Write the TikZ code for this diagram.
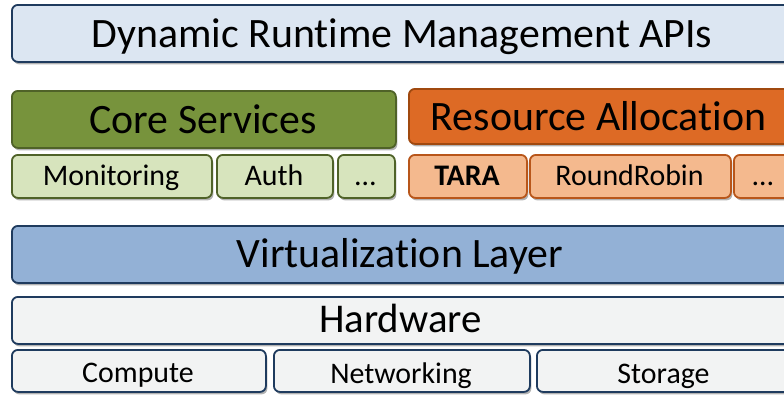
\documentclass[tikz,border=0pt]{standalone}
\usepackage{fontspec}
\setmainfont{Carlito}[Ligatures={NoCommon,NoContextual}]
\usetikzlibrary{shadows}
\definecolor{navy}{HTML}{1F3B5E}
\definecolor{topfill}{HTML}{DCE6F2}
\definecolor{corefill}{HTML}{77933C}
\definecolor{coredraw}{HTML}{4F6228}
\definecolor{gsubfill}{HTML}{D7E4BD}
\definecolor{orfill}{HTML}{DD6A25}
\definecolor{ordraw}{HTML}{A0490F}
\definecolor{osubfill}{HTML}{F4B98E}
\definecolor{osubdraw}{HTML}{B8561A}
\definecolor{virtfill}{HTML}{93B1D6}
\definecolor{hwfill}{HTML}{F2F3F3}
\tikzset{
  boxbase/.style={rectangle, rounded corners=6bp, line width=1.8bp, inner sep=0pt,
    anchor=north west, drop shadow={shadow xshift=1.5bp, shadow yshift=-2.5bp, opacity=0.3, fill=black}},
  bluebox/.style={boxbase, fill=topfill, draw=navy},
  corebox/.style={boxbase, fill=corefill, draw=coredraw},
  gsub/.style={boxbase, fill=gsubfill, draw=coredraw},
  orbox/.style={boxbase, fill=orfill, draw=ordraw},
  osub/.style={boxbase, fill=osubfill, draw=osubdraw},
  virtbox/.style={boxbase, fill=virtfill, draw=navy},
  hwbox/.style={boxbase, fill=hwfill, draw=navy},
  bigtxt/.style={anchor=base, inner sep=0pt, font=\fontsize{42}{50}\selectfont},
  hwtxt/.style={anchor=base, inner sep=0pt, font=\fontsize{41}{49}\selectfont},
  smalltxt/.style={anchor=base, inner sep=0pt, font=\fontsize{30}{36}\selectfont},
}
\begin{document}
\begin{tikzpicture}[x=1bp,y=-1bp]
\useasboundingbox (0,0) rectangle (784,394);
% boxes
\node[bluebox, minimum width=789bp, minimum height=57bp] (api) at (11,4) {};
\node[corebox, minimum width=384bp, minimum height=57bp] (core) at (11,90) {};
\node[orbox, minimum width=385bp, minimum height=55bp] (ra) at (408,88) {};
\node[gsub, minimum width=200bp, minimum height=43bp] (mon) at (11,154) {};
\node[gsub, minimum width=116bp, minimum height=43bp] (auth) at (216,154) {};
\node[gsub, minimum width=57bp, minimum height=43bp] (gdots) at (337,154) {};
\node[osub, minimum width=118bp, minimum height=43bp] (tara) at (408,154) {};
\node[osub, minimum width=201bp, minimum height=43bp] (rr) at (529,154) {};
\node[osub, minimum width=60bp, minimum height=43bp] (odots) at (733,154) {};
\node[virtbox, minimum width=789bp, minimum height=57bp] (virt) at (11,225) {};
\node[hwbox, minimum width=789bp, minimum height=47bp] (hw) at (11,296) {};
\node[hwbox, minimum width=254bp, minimum height=42bp] (comp) at (11,349) {};
\node[hwbox, minimum width=256bp, minimum height=42bp] (net) at (273,349) {};
\node[hwbox, minimum width=260bp, minimum height=42bp] (stor) at (536,349) {};
% texts
\node[bigtxt] (tapi) at (402,47) {Dynamic Runtime Management APIs};
\node[bigtxt] (tcore) at (203,133) {Core Services};
\node[bigtxt] (tra) at (598.5,130) {Resource Allocation};
\node[smalltxt] (tmon) at (111,185) {Monitoring};
\node[smalltxt] (tauth) at (274,185) {Auth};
\node[smalltxt] (tgd) at (365.5,185) {…};
\node[smalltxt] (ttara) at (467,185) {\bfseries TARA};
\node[smalltxt] (trr) at (629.5,185) {RoundRobin};
\node[smalltxt] (tod) at (763,185) {…};
\node[bigtxt] (tvirt) at (400,267) {Virtualization Layer};
\node[hwtxt] (thw) at (400.5,332) {Hardware};
\node[smalltxt] (tcomp) at (138,382) {Compute};
\node[smalltxt] (tnet) at (401,383) {Networking};
\node[smalltxt] (tstor) at (663.5,383) {Storage};
\end{tikzpicture}
\end{document}
